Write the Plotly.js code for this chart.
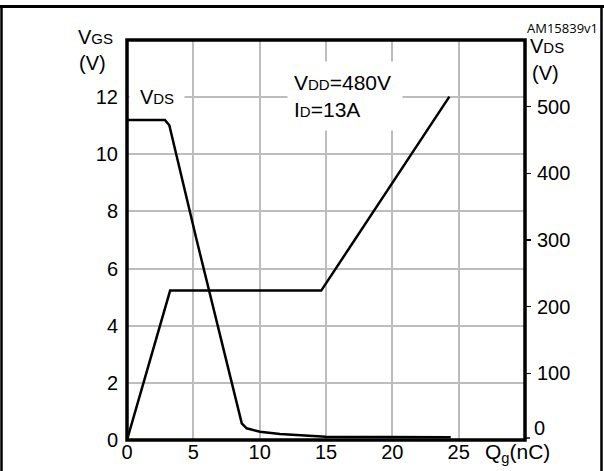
<!DOCTYPE html>
<html>
<head>
<meta charset="utf-8">
<script src="https://cdn.plot.ly/plotly-3.0.1.min.js"></script>
<style>
html,body{margin:0;padding:0;background:#fff;}
#chart{width:604px;height:471px;}
</style>
</head>
<body>
<div id="chart"></div>
<script>
// Gate charge Qg (nC) for the VGS curve and VGS (V)
const qgVgs = [0, 3.25, 14.64, 24.3];
const vgs   = [0, 5.23, 5.23, 12.02];
// Gate charge Qg (nC) for the VDS curve and VDS (V)
const qgVds = [0, 2.86, 3.19, 5.25, 8.65, 9.02, 10.02, 11.53, 14.98, 24.4];
const vds   = [480, 480, 472, 300, 25, 17.5, 12.5, 9, 5, 4];
// Tick values and labels
const xTicks = [0, 5, 10, 15, 20, 25];
const xTickLabels = ['0', '5', '10', '15', '20', '25'];
const vgsTicks = [0, 2, 4, 6, 8, 10, 12];
const vgsTickLabels = ['0', '2', '4', '6', '8', '10', '12'];
const vdsTicks = [100, 200, 300, 400, 500];
const vdsTickLabels = ['100', '200', '300', '400', '500'];

const FONT = 'Liberation Sans, Arial, sans-serif';
const GRID = '#bdbdbd';
const sm = (t) => '<span style="font-size:15px">' + t + '</span>';

const traces = [
  {x: qgVgs, y: vgs, type: 'scatter', mode: 'lines', xaxis: 'x', yaxis: 'y',
   line: {color: '#000', width: 2.5}, hoverinfo: 'skip', showlegend: false},
  {x: qgVds, y: vds, type: 'scatter', mode: 'lines', xaxis: 'x', yaxis: 'y2',
   line: {color: '#000', width: 2.5}, hoverinfo: 'skip', showlegend: false}
];

const layout = {
  width: 604, height: 471,
  margin: {l: 127, r: 79, t: 40, b: 31, pad: 0},
  paper_bgcolor: '#ffffff', plot_bgcolor: '#ffffff',
  font: {family: FONT, size: 20, color: '#000'},
  showlegend: false,
  xaxis: {
    range: [0, 30], tickvals: xTicks, ticktext: xTickLabels,
    showgrid: true, gridcolor: GRID, gridwidth: 2,
    zeroline: false, showline: false, ticks: '',
    ticklabelstandoff: -2,
    tickfont: {family: FONT, size: 20, color: '#000'}
  },
  yaxis: {
    range: [0, 14], tickvals: vgsTicks, ticktext: vgsTickLabels,
    showgrid: true, gridcolor: GRID, gridwidth: 2,
    zeroline: false, showline: false, ticks: '',
    ticklabelstandoff: 8,
    tickfont: {family: FONT, size: 20, color: '#000'}
  },
  yaxis2: {
    range: [0, 600], overlaying: 'y', side: 'right', anchor: 'x',
    tickvals: vdsTicks, ticktext: vdsTickLabels,
    showgrid: false, zeroline: false, showline: false,
    ticks: 'outside', ticklen: 5, tickwidth: 1.5, tickcolor: '#000',
    ticklabelstandoff: 2,
    tickfont: {family: FONT, size: 20, color: '#000'}
  },
  shapes: [
    // plot frame
    {type: 'rect', xref: 'paper', yref: 'paper', x0: 0, x1: 1, y0: 0, y1: 1,
     line: {color: '#000', width: 3.5}, fillcolor: 'rgba(0,0,0,0)', layer: 'above'},
    // small tick at right-axis zero
    {type: 'line', xref: 'paper', yref: 'paper', x0: 1, x1: 1.0126, y0: 0.005, y1: 0.005,
     line: {color: '#000', width: 1.5}, layer: 'above'},
    // outer figure frame
    {type: 'line', xref: 'paper', yref: 'paper', x0: -0.3191, x1: 1.1985, y0: 1.08375, y1: 1.08375,
     line: {color: '#000', width: 3}, layer: 'above'},
    {type: 'line', xref: 'paper', yref: 'paper', x0: -0.3153, x1: -0.3153, y0: 1.08375, y1: -0.08,
     line: {color: '#000', width: 2.5}, layer: 'above'},
    {type: 'line', xref: 'paper', yref: 'paper', x0: 1.1922, x1: 1.1922, y0: 1.08375, y1: -0.08,
     line: {color: '#000', width: 2.5}, layer: 'above'}
  ],
  annotations: [
    {text: 'V' + sm('GS'), xref: 'paper', yref: 'paper', x: -0.0779, y: 1.0075,
     xanchor: 'center', yanchor: 'middle', showarrow: false, font: {size: 20}},
    {text: '(V)', xref: 'paper', yref: 'paper', x: -0.0879, y: 0.9425,
     xanchor: 'center', yanchor: 'middle', showarrow: false, font: {size: 20}},
    {text: 'V' + sm('DS'), xref: 'paper', yref: 'paper', x: 1.0075, y: 0.985,
     xanchor: 'left', yanchor: 'middle', showarrow: false, font: {size: 20}},
    {text: '(V)', xref: 'paper', yref: 'paper', x: 1.0503, y: 0.9175,
     xanchor: 'center', yanchor: 'middle', showarrow: false, font: {size: 20}},
    {text: 'AM15839v1', xref: 'paper', yref: 'paper', x: 1.1884, y: 1.03,
     xanchor: 'right', yanchor: 'middle', showarrow: false,
     font: {family: 'Open Sans, sans-serif', size: 13}},
    {text: 'V' + sm('DS'), xref: 'paper', yref: 'paper', x: 0.0754, y: 0.8563,
     xanchor: 'center', yanchor: 'middle', showarrow: false, font: {size: 20},
     bgcolor: '#ffffff', width: 54, height: 24, borderpad: 0},
    {text: 'V' + sm('DD') + '=480V<br>I' + sm('D') + '=13A', xref: 'paper', yref: 'paper',
     x: 0.3844, y: 0.9475, xanchor: 'left', yanchor: 'top', align: 'left',
     showarrow: false, font: {size: 21}, bgcolor: '#ffffff',
     width: 102, height: 56, borderpad: 6, xshift: 7},
    {text: 'Q<sub>g</sub>(nC)', xref: 'paper', yref: 'paper', x: 0.8945, y: -0.032,
     xanchor: 'left', yanchor: 'middle', showarrow: false, font: {size: 21}},
    {text: '0', xref: 'paper', yref: 'paper', x: 1.0176, y: 0.03,
     xanchor: 'left', yanchor: 'middle', showarrow: false, font: {size: 20}}
  ]
};

Plotly.newPlot('chart', traces, layout, {displayModeBar: false, staticPlot: true});
</script>
</body>
</html>
